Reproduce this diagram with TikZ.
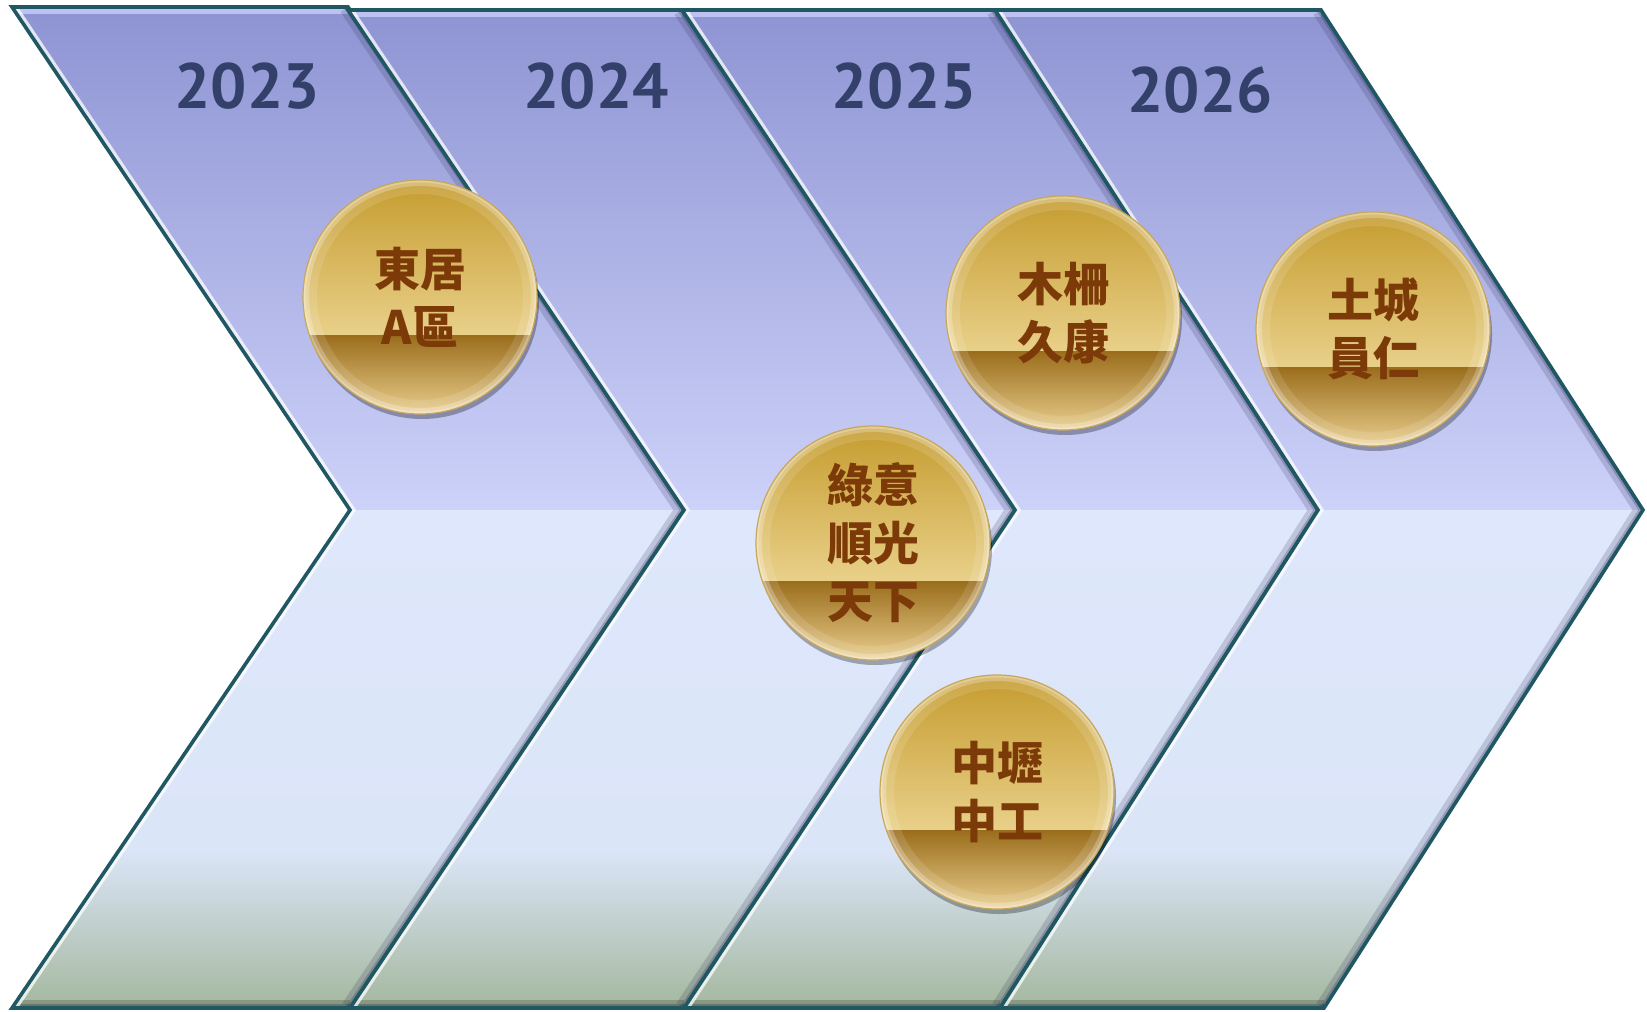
\documentclass[tikz,border=0pt]{standalone}
\usepackage{fontspec}
\usetikzlibrary{shadows,calc}
\newfontfamily\cjkfont{Noto Sans CJK TC}
\newfontfamily\yearfont{PT Sans}
\definecolor{edgec}{HTML}{1F5863}
\definecolor{yearc}{HTML}{33406A}
\definecolor{balltext}{HTML}{7B3A08}
\definecolor{chA}{HTML}{8D93D2}
\definecolor{chB}{HTML}{CDD2F9}
\definecolor{chC}{HTML}{DEE7FB}
\definecolor{chD}{HTML}{DBE5F8}
\definecolor{chE}{HTML}{A3B79C}
\definecolor{topHi}{HTML}{C3C7F7}
\definecolor{shadowc}{HTML}{2A2850}
\definecolor{bTop}{HTML}{C49A2C}
\definecolor{bMid}{HTML}{E0BA55}
\definecolor{bHi}{HTML}{FBEBB8}
\definecolor{bDark}{HTML}{9A6D1C}
\definecolor{bDarkMid}{HTML}{B88D38}
\definecolor{bLow}{HTML}{EDD292}
\definecolor{bRim}{HTML}{C9A759}
\newcommand\drawchev[7]{%
  \begin{scope}
    \clip (#1,#7) -- (#4,#7) -- (#5,510) -- (#6,1008) -- (#3,1008) -- (#2,510) -- cycle;
    \shade[top color=chA, bottom color=chB] (0,0) rectangle (1647,510);
    \shade[top color=chC, bottom color=chD] (0,510) rectangle (1647,850);
    \shade[top color=chD, bottom color=chE] (0,850) rectangle (1647,1011);
    \draw[line width=7pt, topHi, opacity=0.9] (#1,#7) -- (#4,#7);
    \draw[line width=8pt, black, opacity=0.18] (#3,1008) -- (#6,1008);
    \draw[line width=4pt, black, opacity=0.22] (#3,1008) -- (#6,1008);
    \draw[line width=9pt, shadowc, opacity=0.18, line join=miter] (#4,#7) -- (#5,510) -- (#6,1008);
    \draw[line width=4pt, shadowc, opacity=0.25, line join=miter] (#4,#7) -- (#5,510) -- (#6,1008);
    \draw[line width=5pt, white, opacity=0.75, line join=miter] (#1,#7) -- (#2,510) -- (#3,1008);
  \end{scope}
  \draw[edgec, line width=1.8pt, line join=miter] (#1,#7) -- (#4,#7) -- (#5,510) -- (#6,1008) -- (#3,1008) -- (#2,510) -- cycle;
}
\begin{document}
\begin{tikzpicture}[x=0.5pt, y=-0.5pt,
  yearlabel/.style={font=\yearfont\bfseries\fontsize{32}{36}\selectfont, text=yearc, inner sep=0pt},
  ball/.style={circle, minimum size=117pt, inner sep=0pt, draw=bRim, line width=0.6pt,
    font=\cjkfont\bfseries\fontsize{23}{29}\selectfont, text=balltext, align=center,
    drop shadow={shadow xshift=1pt, shadow yshift=-2.5pt, opacity=0.3, fill=black},
    path picture={
      \shade[top color=bTop, middle color=bMid, bottom color=bHi]
        ([yshift=2pt]path picture bounding box.north west) rectangle ([yshift=-19pt]path picture bounding box.east);
      \shade[top color=bDark, middle color=bDarkMid, bottom color=bLow]
        ([yshift=-19pt]path picture bounding box.west) rectangle ([yshift=-2pt]path picture bounding box.south east);
      \draw[white, opacity=0.12, line width=14pt] (path picture bounding box.center) circle (58.5pt);
      \draw[white, opacity=0.25, line width=6pt] (path picture bounding box.center) circle (58.5pt);
      \draw[white, opacity=0.25, line width=2.5pt] (path picture bounding box.center) circle (58.5pt);
    }}]
\useasboundingbox (0,0) rectangle (1647,1011);
\drawchev{12}{350}{12}{348}{684}{350}{7}
\drawchev{348}{684}{350}{682}{1015}{684}{10}
\drawchev{682}{1015}{684}{995}{1318}{1000}{10}
\drawchev{995}{1318}{1000}{1321}{1643}{1324}{10}
\node[yearlabel] (y1) at (247,86) {2023};
\node[yearlabel] (y2) at (596,86) {2024};
\node[yearlabel] (y3) at (904,86) {2025};
\node[yearlabel] (y4) at (1200,90) {2026};
\node[ball] (b1) at (420,297) {東居\\A區};
\node[ball] (b2) at (873,543) {綠意\\順光\\天下};
\node[ball] (b3) at (1063,313) {木柵\\久康};
\node[ball] (b4) at (997,792) {中壢\\中工};
\node[ball] (b5) at (1373,329) {土城\\員仁};
\end{tikzpicture}
\end{document}
